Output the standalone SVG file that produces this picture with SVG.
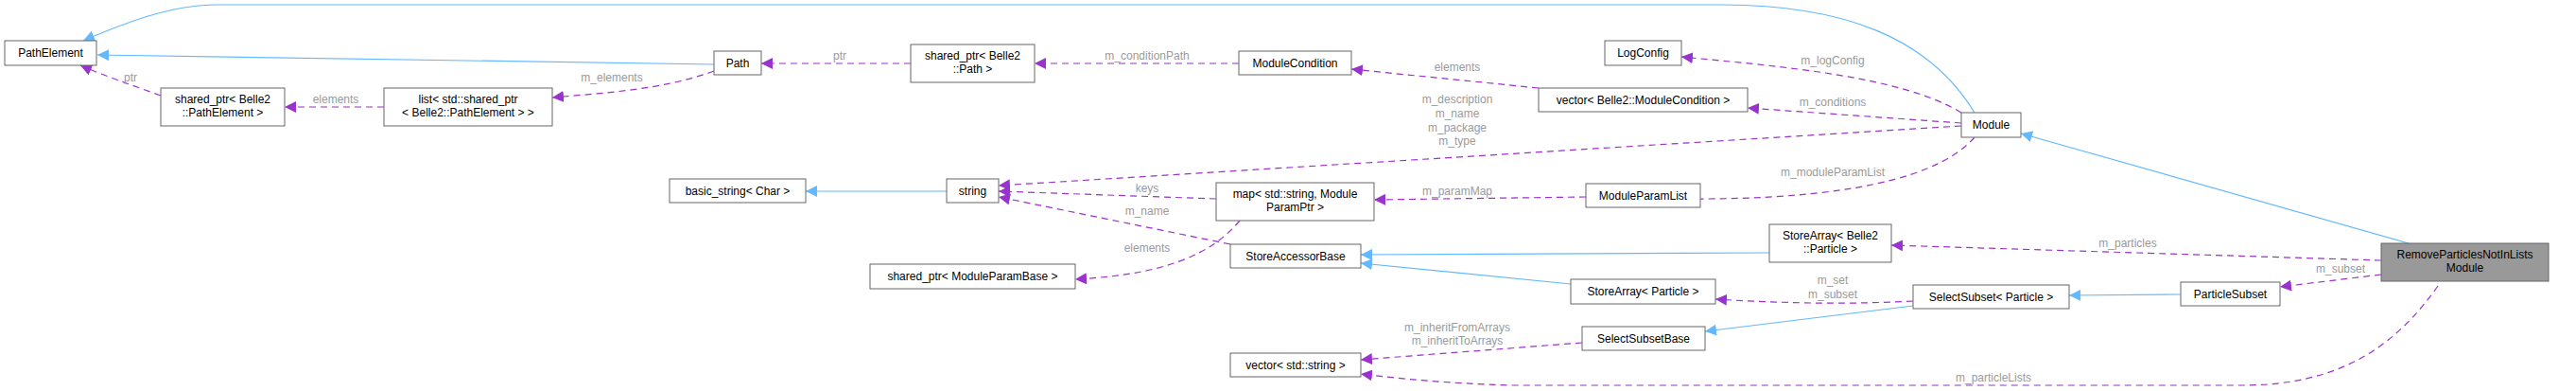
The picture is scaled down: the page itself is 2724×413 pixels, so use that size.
<svg xmlns="http://www.w3.org/2000/svg" width="2724" height="413" viewBox="0 0 2724 413">
<style>
text{font-family:"Liberation Sans",Arial,sans-serif;font-size:12px}
.n rect{fill:#fff;stroke:#666;stroke-width:1}
.n text{fill:#000;text-anchor:middle}
.l{fill:#9a9a9a;text-anchor:middle}
.b{fill:none;stroke:#63b8ff;stroke-width:1.2}
.p{fill:none;stroke:#9a32cd;stroke-width:1.2;stroke-dasharray:7,5}
</style>
<defs>
<marker id="ab" viewBox="0 0 10 10" refX="10" refY="5" markerWidth="12" markerHeight="12" markerUnits="userSpaceOnUse" orient="auto"><path d="M0,0L10,5L0,10z" fill="#63b8ff"/></marker>
<marker id="ap" viewBox="0 0 10 10" refX="10" refY="5" markerWidth="12" markerHeight="12" markerUnits="userSpaceOnUse" orient="auto"><path d="M0,0L10,5L0,10z" fill="#9a32cd"/></marker>
</defs>
<g id="connectors">
<path class="b" marker-end="url(#ab)" d="M2088,119 C2040,40 1950,5 1820,5 L230,5 C180,5 130,25 88,43"/>
<path class="b" marker-end="url(#ab)" d="M755,68 L103,58"/>
<path class="b" marker-end="url(#ab)" d="M1001,202 L852,202"/>
<path class="b" marker-end="url(#ab)" d="M1871,267 L1439,269"/>
<path class="b" marker-end="url(#ab)" d="M1661,300 L1439,278"/>
<path class="b" marker-end="url(#ab)" d="M2023,323 L1803,350"/>
<path class="b" marker-end="url(#ab)" d="M2306,311 L2188,312"/>
<path class="b" marker-end="url(#ab)" d="M2547,257 L2137,141"/>
<path class="p" marker-end="url(#ap)" d="M170,101 C140,90 110,80 85,69"/>
<path class="p" marker-end="url(#ap)" d="M406,113 L301,113"/>
<path class="p" marker-end="url(#ap)" d="M755,75 C700,95 640,98 584,103"/>
<path class="p" marker-end="url(#ap)" d="M963,67 L805,67"/>
<path class="p" marker-end="url(#ap)" d="M1310,67 L1094,67"/>
<path class="p" marker-end="url(#ap)" d="M1627,93 L1429,73"/>
<path class="p" marker-end="url(#ap)" d="M2074,119 C2010,80 1880,70 1778,60"/>
<path class="p" marker-end="url(#ap)" d="M2074,130 L1848,114"/>
<path class="p" marker-end="url(#ap)" d="M2074,133 L1056,196"/>
<path class="p" marker-end="url(#ap)" d="M2088,145 C2040,200 1900,211 1780,210"/>
<path class="p" marker-end="url(#ap)" d="M1677,208 L1453,211"/>
<path class="p" marker-end="url(#ap)" d="M1286,210 L1056,202"/>
<path class="p" marker-end="url(#ap)" d="M1301,258 L1056,208"/>
<path class="p" marker-end="url(#ap)" d="M1311,233 C1280,270 1230,290 1137,295"/>
<path class="p" marker-end="url(#ap)" d="M2518,275 L2000,259"/>
<path class="p" marker-end="url(#ap)" d="M2518,290 L2411,303"/>
<path class="p" marker-end="url(#ap)" d="M2023,318 C1950,322 1880,320 1814,316"/>
<path class="p" marker-end="url(#ap)" d="M1673,362 L1439,380"/>
<path class="p" marker-end="url(#ap)" d="M2578,302 C2530,370 2470,407 2370,407 L1600,407 C1530,405 1480,400 1439,395"/>
</g>
<g id="labels">
<text class="l" x="138" y="86">ptr</text>
<text class="l" x="355" y="109">elements</text>
<text class="l" x="647" y="86">m_elements</text>
<text class="l" x="888" y="63">ptr</text>
<text class="l" x="1213" y="63">m_conditionPath</text>
<text class="l" x="1541" y="75">elements</text>
<text class="l" x="1938" y="68">m_logConfig</text>
<text class="l" x="1938" y="112">m_conditions</text>
<text class="l" x="1541" y="109">m_description</text>
<text class="l" x="1541" y="124">m_name</text>
<text class="l" x="1541" y="139">m_package</text>
<text class="l" x="1541" y="153">m_type</text>
<text class="l" x="1938" y="186">m_moduleParamList</text>
<text class="l" x="1541" y="206">m_paramMap</text>
<text class="l" x="1213" y="203">keys</text>
<text class="l" x="1213" y="227">m_name</text>
<text class="l" x="1213" y="266">elements</text>
<text class="l" x="2250" y="261">m_particles</text>
<text class="l" x="2475" y="288">m_subset</text>
<text class="l" x="1938" y="300">m_set</text>
<text class="l" x="1938" y="315">m_subset</text>
<text class="l" x="1541" y="350">m_inheritFromArrays</text>
<text class="l" x="1541" y="364">m_inheritToArrays</text>
<text class="l" x="2108" y="403">m_particleLists</text>
</g>
<g id="PathElement" class="n"><rect x="5" y="43" width="97" height="26"/><text x="53.5" y="60">PathElement</text></g>
<g id="SharedPtrPathElement" class="n"><rect x="170" y="93" width="131" height="40"/><text x="235.5" y="109">shared_ptr&lt; Belle2</text><text x="235.5" y="123">::PathElement &gt;</text></g>
<g id="ListSharedPtr" class="n"><rect x="406" y="93" width="178" height="40"/><text x="495" y="109">list&lt; std::shared_ptr</text><text x="495" y="123">&lt; Belle2::PathElement &gt; &gt;</text></g>
<g id="Path" class="n"><rect x="755" y="54" width="50" height="25"/><text x="780" y="71">Path</text></g>
<g id="BasicString" class="n"><rect x="708" y="189" width="144" height="25"/><text x="780" y="206">basic_string&lt; Char &gt;</text></g>
<g id="SharedPtrPath" class="n"><rect x="963" y="47" width="131" height="40"/><text x="1028.5" y="63">shared_ptr&lt; Belle2</text><text x="1028.5" y="77">::Path &gt;</text></g>
<g id="ModuleCondition" class="n"><rect x="1310" y="54" width="119" height="25"/><text x="1369.5" y="71">ModuleCondition</text></g>
<g id="LogConfig" class="n"><rect x="1697" y="43" width="81" height="26"/><text x="1737.5" y="60">LogConfig</text></g>
<g id="VectorModuleCondition" class="n"><rect x="1627" y="93" width="221" height="25"/><text x="1737.5" y="110">vector&lt; Belle2::ModuleCondition &gt;</text></g>
<g id="String" class="n"><rect x="1001" y="189" width="55" height="25"/><text x="1028.5" y="206">string</text></g>
<g id="Map" class="n"><rect x="1286" y="193" width="167" height="40"/><text x="1369.5" y="209">map&lt; std::string, Module</text><text x="1369.5" y="223">ParamPtr &gt;</text></g>
<g id="ModuleParamList" class="n"><rect x="1677" y="194" width="121" height="25"/><text x="1737.5" y="211">ModuleParamList</text></g>
<g id="StoreAccessorBase" class="n"><rect x="1301" y="258" width="138" height="25"/><text x="1370" y="275">StoreAccessorBase</text></g>
<g id="SharedPtrModuleParamBase" class="n"><rect x="920" y="279" width="217" height="26"/><text x="1028.5" y="296">shared_ptr&lt; ModuleParamBase &gt;</text></g>
<g id="StoreArrayParticle" class="n"><rect x="1661" y="295" width="153" height="26"/><text x="1737.5" y="312">StoreArray&lt; Particle &gt;</text></g>
<g id="SelectSubsetBase" class="n"><rect x="1673" y="345" width="130" height="25"/><text x="1738" y="362">SelectSubsetBase</text></g>
<g id="VectorString" class="n"><rect x="1301" y="373" width="138" height="25"/><text x="1370" y="390">vector&lt; std::string &gt;</text></g>
<g id="Module" class="n"><rect x="2074" y="119" width="63" height="26"/><text x="2105.5" y="136">Module</text></g>
<g id="StoreArrayBelle2Particle" class="n"><rect x="1871" y="237" width="129" height="40"/><text x="1935.5" y="253">StoreArray&lt; Belle2</text><text x="1935.5" y="267">::Particle &gt;</text></g>
<g id="SelectSubsetParticle" class="n"><rect x="2023" y="301" width="165" height="25"/><text x="2105.5" y="318">SelectSubset&lt; Particle &gt;</text></g>
<g id="ParticleSubset" class="n"><rect x="2306" y="298" width="105" height="25"/><text x="2358.5" y="315">ParticleSubset</text></g>
<g id="RemoveParticlesNotInListsModule" class="n"><rect x="2518" y="257" width="177" height="40" style="fill:#999"/><text x="2606.5" y="273">RemoveParticlesNotInLists</text><text x="2606.5" y="287">Module</text></g>
</svg>
